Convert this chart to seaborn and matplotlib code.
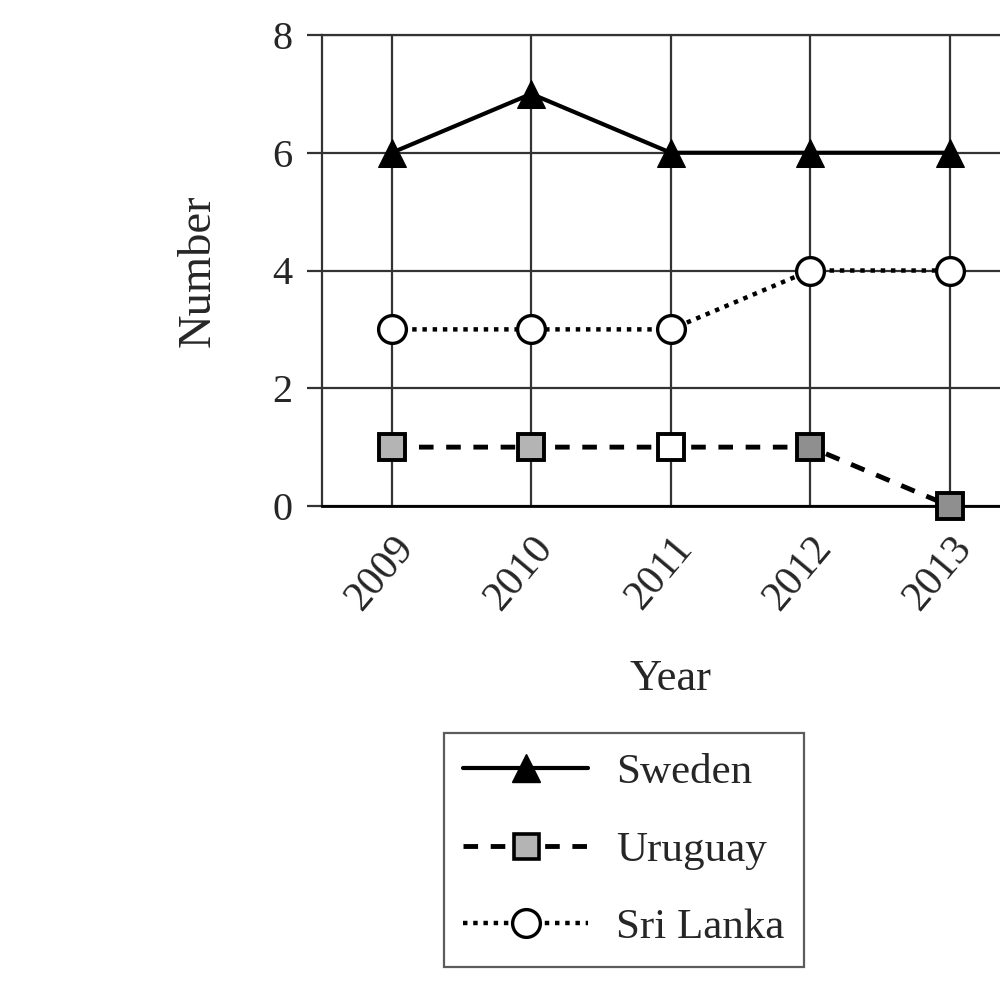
import matplotlib
matplotlib.use("Agg")
import matplotlib.pyplot as plt
from matplotlib.lines import Line2D
import pandas as pd
import seaborn as sns

years = [2009, 2010, 2011, 2012, 2013]
sweden = [6, 7, 6, 6, 6]
uruguay = [1, 1, 1, 1, 0]
sri_lanka = [3, 3, 3, 4, 4]
uruguay_fill = ["#b4b4b4", "#b4b4b4", "#ffffff", "#8f8f8f", "#8f8f8f"]

df = pd.DataFrame({"Year": years, "Sweden": sweden, "Uruguay": uruguay, "Sri Lanka": sri_lanka})

sns.set_style("white")
plt.rcParams["font.family"] = ["Liberation Serif", "DejaVu Serif"]

fig = plt.figure(figsize=(10, 10), dpi=100)
# the original is cropped on the right, so the axes run off the canvas
ax = fig.add_axes([0.322, 0.494, 0.837, 0.471])

# grid
ax.set_axisbelow(True)
ax.grid(True, color="#333333", lw=1.6)

sns.lineplot(data=df, x="Year", y="Sweden", ax=ax, color="black", lw=3,
             marker="^", markersize=20, markeredgecolor="black", zorder=3)
sns.lineplot(data=df, x="Year", y="Sri Lanka", ax=ax, color="black", lw=3.2,
             linestyle=(0, (1, 1.3)), zorder=3)
sns.lineplot(data=df, x="Year", y="Uruguay", ax=ax, color="black", lw=3.5,
             linestyle=(0, (3, 2.6)), zorder=3)
ax.plot(df["Year"], df["Sri Lanka"], ls="none", marker="o", ms=20,
        mfc="white", mec="black", mew=2.4, zorder=4)
for x, y, c in zip(df["Year"], df["Uruguay"], uruguay_fill):
    ax.plot(x, y, ls="none", marker="s", ms=18.5, mfc=c, mec="black",
            mew=2.8, zorder=4, clip_on=False)

ax.set_xlim(2008.5, 2014.5)
ax.set_ylim(0, 8)
ax.set_yticks([0, 2, 4, 6, 8])
ax.set_xticks(years)
ax.set_xticklabels([str(y) for y in years], rotation=50, ha="right",
                   va="top", rotation_mode="anchor")
ax.tick_params(axis="y", left=True, labelsize=29, length=11, width=1.6,
               color="#333333", pad=10)
ax.tick_params(axis="x", labelsize=30, length=0, pad=17)
for s in ax.spines.values():
    s.set_color("#333333")
    s.set_linewidth(1.6)
ax.spines["bottom"].set_color("black")
ax.spines["bottom"].set_linewidth(2)

ax.set_ylabel("Number", fontsize=33.5)
ax.yaxis.set_label_coords(-0.122, 0.5)
ax.set_xlabel("Year", fontsize=32)
ax.xaxis.set_label_coords(0.416, -0.325)

handles = [
    Line2D([], [], color="black", lw=3, marker="^", ms=20),
    Line2D([], [], color="black", lw=3.5, ls=(0, (3, 2.6)), marker="s", ms=18,
           mfc="#b4b4b4", mec="black", mew=2.6),
    Line2D([], [], color="black", lw=3.2, ls=(0, (1, 1.3)), marker="o", ms=20,
           mfc="white", mec="black", mew=2.4),
]
leg = fig.legend(handles, ["Sweden", "Uruguay", "Sri Lanka"],
                 loc="center", bbox_to_anchor=(0.624, 0.150), fontsize=31,
                 frameon=True, fancybox=False, edgecolor="#333333",
                 handlelength=2.9, labelspacing=0.9, borderpad=0.45,
                 handletextpad=0.65, borderaxespad=0)
leg.get_frame().set_linewidth(1.6)

fig.savefig("out.png", dpi=100, facecolor="white")
